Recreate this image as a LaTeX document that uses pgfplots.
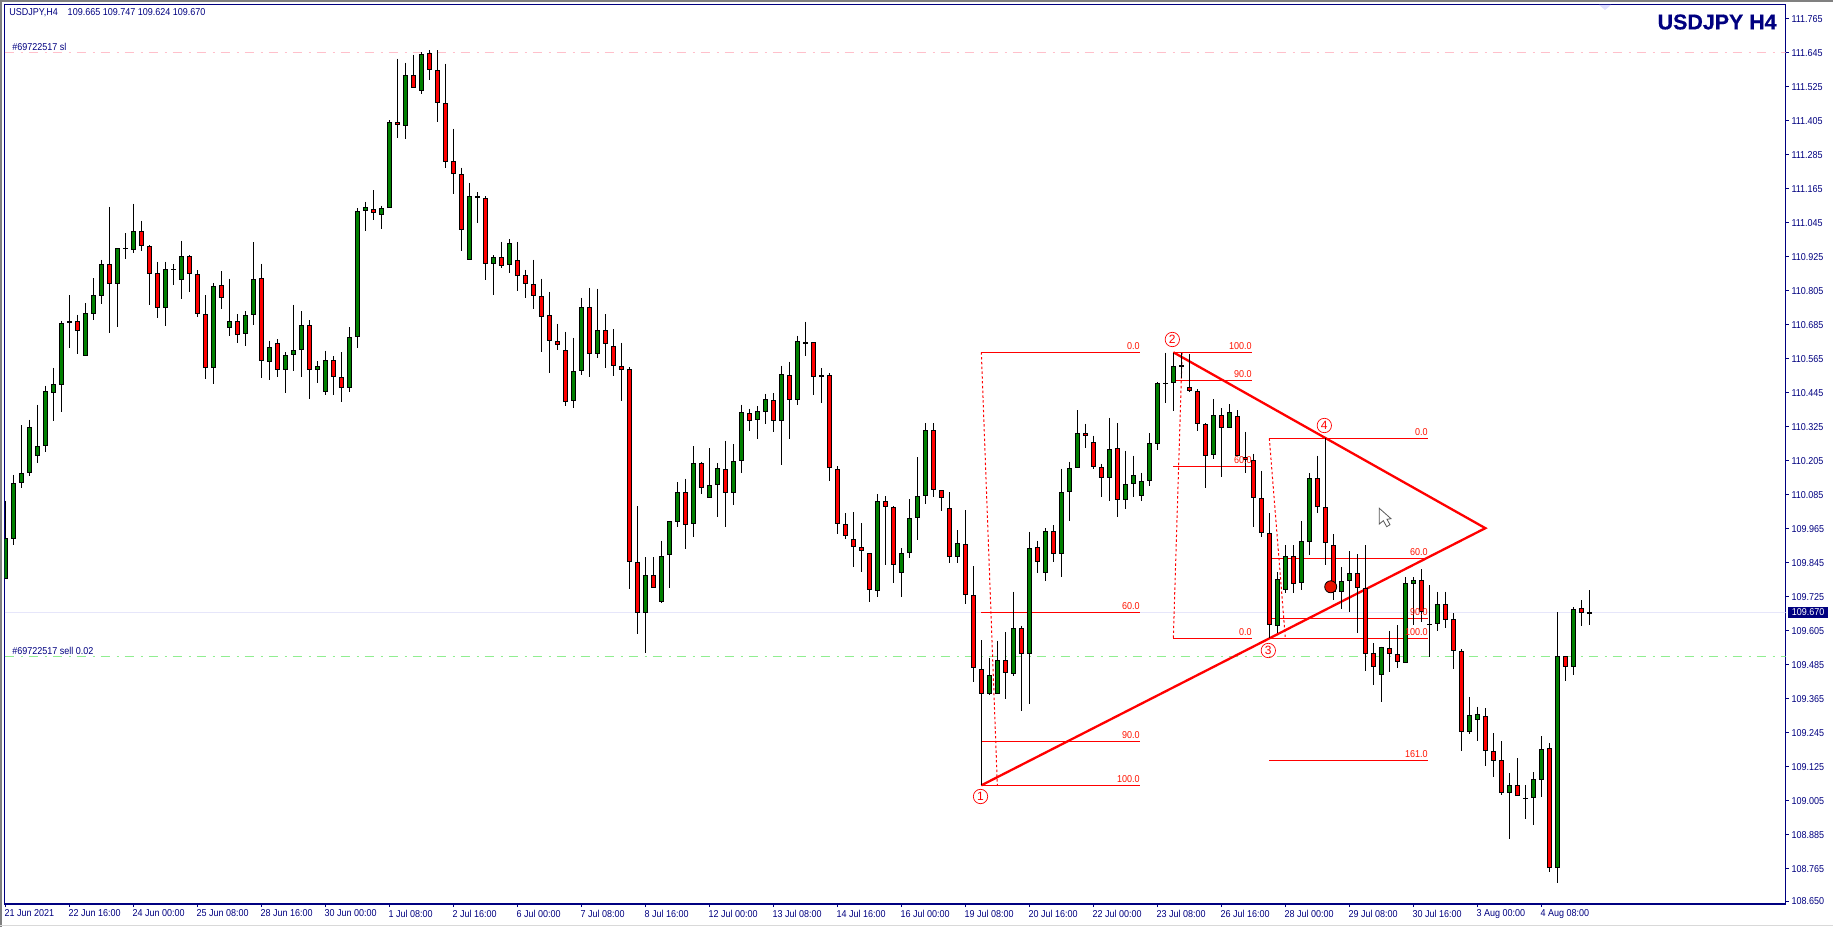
\documentclass[border=0pt]{standalone}
\usepackage{pgfplots}
\usepackage{pgfplotstable}
\usepackage{fontspec}
\pgfplotsset{compat=1.18}
\setmainfont[FakeStretch=0.9]{Liberation Sans}
\newfontfamily\titlefont[FakeBold=0.6]{Liberation Sans}
\newfontfamily\plainfont{Liberation Sans}
\definecolor{mtnavy}{RGB}{0,0,128}
\definecolor{mtgreen}{RGB}{0,128,0}
\definecolor{mtred}{RGB}{255,0,0}
\definecolor{mtlgreen}{RGB}{144,238,144}
\definecolor{mtpink}{RGB}{255,192,203}
\definecolor{mtlav}{RGB}{230,230,250}
\newcommand{\smallf}{\fontsize{5}{6}\selectfont}
\pgfplotsset{candle/.style={forget plot, only marks, mark size=0pt, mark options={draw=none, fill=none}}}
% columns: i open high low close
\pgfplotstableread{
i o h l c
0 109.789 110.063 109.786 109.931
1 109.928 110.155 109.908 110.125
2 110.128 110.331 110.109 110.161
3 110.161 110.349 110.151 110.323
4 110.223 110.402 110.198 110.256
5 110.258 110.469 110.237 110.450
6 110.446 110.533 110.347 110.475
7 110.474 110.699 110.378 110.690
8 110.690 110.790 110.604 110.697
10 110.576 110.761 110.576 110.726
11 110.724 110.850 110.702 110.789
12 110.788 110.914 110.759 110.899
14 110.830 110.955 110.679 110.955
15 110.952 111.009 110.919 110.955
16 110.948 111.112 110.940 111.015
20 110.743 110.907 110.682 110.881
21 110.877 110.899 110.827 110.881
22 110.842 110.981 110.777 110.927
26 110.531 110.832 110.477 110.821
28 110.673 110.847 110.647 110.697
30 110.651 110.733 110.611 110.719
31 110.719 110.976 110.686 110.846
33 110.553 110.628 110.491 110.606
35 110.524 110.589 110.446 110.577
36 110.577 110.755 110.523 110.595
37 110.595 110.733 110.502 110.683
39 110.524 110.556 110.481 110.538
40 110.447 110.593 110.438 110.560
43 110.461 110.677 110.447 110.641
44 110.641 111.096 110.604 111.086
45 111.086 111.119 111.018 111.100
47 111.072 111.105 111.025 111.096
48 111.096 111.407 111.096 111.400
50 111.386 111.610 111.342 111.566
52 111.510 111.648 111.501 111.640
58 110.913 111.186 110.913 111.139
61 110.899 110.930 110.792 110.923
63 110.895 110.987 110.869 110.973
71 110.415 110.639 110.393 110.521
72 110.521 110.780 110.509 110.747
74 110.581 110.812 110.569 110.666
80 109.666 109.865 109.527 109.801
82 109.705 109.922 109.702 109.868
83 109.871 109.991 109.757 109.991
84 109.988 110.130 109.972 110.094
86 109.981 110.257 109.937 110.196
88 110.075 110.250 110.075 110.118
89 110.118 110.197 110.008 110.178
91 110.090 110.264 110.050 110.203
92 110.203 110.402 110.163 110.376
94 110.348 110.398 110.283 110.380
95 110.376 110.441 110.336 110.422
97 110.344 110.540 110.191 110.510
99 110.418 110.646 110.403 110.627
100 110.616 110.695 110.576 110.623
102 110.500 110.531 110.410 110.507
109 109.744 110.087 109.725 110.062
112 109.808 109.896 109.725 109.878
113 109.878 110.069 109.861 110.002
114 110.002 110.217 109.926 110.079
115 110.079 110.337 110.054 110.313
119 109.864 109.959 109.845 109.913
123 109.383 109.509 109.378 109.447
124 109.380 109.569 109.380 109.500
126 109.453 109.742 109.446 109.613
128 109.524 109.954 109.346 109.896
130 109.808 109.966 109.782 109.956
132 109.875 110.176 109.796 110.094
133 110.094 110.201 109.994 110.178
134 110.178 110.384 110.178 110.302
138 110.143 110.356 110.064 110.245
140 110.065 110.240 110.036 110.122
141 110.122 110.222 110.078 110.154
142 110.079 110.162 110.064 110.132
143 110.132 110.303 110.117 110.267
144 110.263 110.482 110.244 110.478
145 110.477 110.586 110.410 110.479
146 110.478 110.586 110.382 110.539
151 110.224 110.423 110.212 110.365
153 110.320 110.405 110.320 110.376
159 109.620 109.811 109.596 109.786
160 109.750 109.906 109.739 109.868
162 109.772 109.992 109.749 109.921
163 109.917 110.161 109.872 110.143
167 109.740 109.829 109.680 109.779
168 109.779 109.885 109.671 109.808
172 109.447 109.549 109.354 109.546
175 109.490 109.793 109.490 109.772
176 109.769 109.793 109.625 109.783
178 109.625 109.765 109.513 109.627
179 109.627 109.742 109.605 109.698
183 109.246 109.371 109.239 109.306
184 109.289 109.336 109.217 109.310
188 109.031 109.101 108.871 109.059
190 109.010 109.059 108.941 109.013
191 109.013 109.105 108.920 109.080
192 109.077 109.232 109.019 109.186
194 108.766 109.671 108.715 109.515
196 109.476 109.688 109.450 109.680
198 109.665 109.747 109.624 109.670
}\greentbl
\pgfplotstableread{
i o h l c
9 110.697 110.720 110.582 110.662
13 110.899 111.101 110.657 110.828
17 111.015 111.052 110.947 110.962
18 110.962 110.966 110.756 110.866
19 110.867 110.907 110.710 110.743
23 110.927 110.930 110.801 110.863
24 110.863 110.877 110.714 110.724
25 110.722 110.790 110.494 110.531
27 110.824 110.875 110.742 110.779
29 110.697 110.722 110.622 110.648
32 110.849 110.900 110.498 110.556
34 110.620 110.634 110.502 110.524
38 110.683 110.701 110.424 110.524
41 110.560 110.574 110.438 110.500
42 110.500 110.589 110.414 110.461
46 111.093 111.161 111.056 111.079
49 111.400 111.624 111.346 111.389
51 111.566 111.638 111.520 111.520
53 111.644 111.655 111.551 111.584
54 111.584 111.655 111.402 111.467
55 111.467 111.606 111.240 111.259
56 111.262 111.377 111.148 111.216
57 111.216 111.239 110.947 111.019
59 111.139 111.153 111.046 111.132
60 111.132 111.139 110.844 110.899
62 110.923 110.978 110.887 110.892
64 110.913 110.978 110.806 110.859
65 110.860 110.879 110.781 110.828
66 110.828 110.914 110.742 110.786
67 110.786 110.847 110.590 110.712
68 110.719 110.801 110.516 110.627
69 110.627 110.688 110.597 110.613
70 110.595 110.660 110.400 110.411
73 110.747 110.815 110.502 110.581
75 110.666 110.723 110.534 110.616
76 110.609 110.670 110.506 110.538
77 110.538 110.621 110.417 110.524
78 110.528 110.535 109.751 109.846
79 109.846 110.045 109.595 109.666
81 109.801 109.865 109.755 109.755
85 110.094 110.141 109.895 109.977
87 110.196 110.201 110.089 110.108
90 110.175 110.275 109.972 110.090
93 110.373 110.388 110.311 110.344
96 110.418 110.444 110.308 110.344
98 110.507 110.554 110.283 110.418
101 110.623 110.623 110.438 110.500
103 110.507 110.514 110.135 110.178
104 110.175 110.185 109.948 109.981
105 109.981 110.019 109.930 109.938
106 109.928 110.024 109.831 109.899
107 109.899 109.985 109.813 109.885
108 109.878 109.878 109.708 109.748
110 110.062 110.079 109.838 110.041
111 110.041 110.044 109.775 109.836
116 110.313 110.337 110.078 110.101
117 110.101 110.101 110.029 110.072
118 110.037 110.094 109.845 109.864
120 109.910 110.030 109.698 109.730
121 109.730 109.833 109.425 109.472
122 109.469 109.572 109.059 109.380
125 109.500 109.600 109.365 109.454
127 109.613 109.622 109.323 109.524
129 109.899 109.922 109.810 109.849
131 109.956 109.978 109.849 109.875
135 110.302 110.335 110.250 110.291
136 110.270 110.293 110.177 110.182
137 110.182 110.194 110.078 110.143
139 110.249 110.338 110.008 110.065
147 110.542 110.585 110.496 110.535
148 110.464 110.582 110.447 110.450
149 110.450 110.457 110.311 110.334
150 110.334 110.337 110.110 110.221
152 110.365 110.391 110.149 110.320
154 110.362 110.384 110.221 110.221
155 110.217 110.307 110.162 110.207
156 110.207 110.229 109.972 110.072
157 110.072 110.169 109.937 109.949
158 109.949 110.019 109.578 109.624
161 109.868 109.906 109.739 109.769
164 110.143 110.222 110.022 110.041
165 110.041 110.284 109.838 109.913
166 109.906 109.945 109.713 109.740
169 109.808 109.875 109.598 109.755
170 109.755 109.906 109.464 109.522
171 109.525 109.560 109.413 109.476
173 109.543 109.604 109.460 109.522
174 109.522 109.625 109.472 109.493
177 109.783 109.822 109.637 109.670
180 109.698 109.742 109.616 109.642
181 109.645 109.666 109.471 109.532
182 109.532 109.539 109.181 109.246
185 109.303 109.331 109.128 109.179
186 109.179 109.243 109.090 109.144
187 109.147 109.214 109.024 109.031
189 109.059 109.154 109.020 109.020
193 109.190 109.207 108.754 108.766
195 109.515 109.515 109.429 109.476
197 109.684 109.713 109.622 109.666
}\redtbl
\begin{document}
\begin{tikzpicture}
\path[use as bounding box] (0,0) rectangle (916.5pt,463.5pt);
\begin{axis}[
  at={(2.25pt,11.5pt)}, anchor=south west,
  scale only axis, width=890.5pt, height=449.75pt,
  xmin=-0.104, xmax=222.52, ymin=108.640, ymax=111.816,
  axis line style={mtnavy, line width=0.6pt},
  tick style={mtnavy, line width=0.5pt},
  tick align=outside, major tick length=1.6pt,
  xtick pos=bottom, ytick pos=right,
  xtick={0,8,...,192},
  xticklabels={21 Jun 2021,22 Jun 16:00,24 Jun 00:00,25 Jun 08:00,28 Jun 16:00,30 Jun 00:00,1 Jul 08:00,2 Jul 16:00,6 Jul 00:00,7 Jul 08:00,8 Jul 16:00,12 Jul 00:00,13 Jul 08:00,14 Jul 16:00,16 Jul 00:00,19 Jul 08:00,20 Jul 16:00,22 Jul 00:00,23 Jul 08:00,26 Jul 16:00,28 Jul 00:00,29 Jul 08:00,30 Jul 16:00,3 Aug 00:00,4 Aug 08:00},
  xticklabel style={anchor=north west, inner sep=0pt, xshift=-0.6pt, yshift=-1.2pt, font=\smallf, text=mtnavy},
  ytick={108.650,108.765,108.885,109.005,109.125,109.245,109.365,109.485,109.605,109.725,109.845,109.965,110.085,110.205,110.325,110.445,110.565,110.685,110.805,110.925,111.045,111.165,111.285,111.405,111.525,111.645,111.765},
  yticklabels={108.650,108.765,108.885,109.005,109.125,109.245,109.365,109.485,109.605,109.725,109.845,109.965,110.085,110.205,110.325,110.445,110.565,110.685,110.805,110.925,111.045,111.165,111.285,111.405,111.525,111.645,111.765},
  yticklabel style={anchor=west, inner sep=0pt, xshift=1.2pt, font=\smallf, text=mtnavy},
  clip=true,
]
% horizontal levels
\addplot[forget plot, color=mtlav, line width=0.6pt] coordinates {(-0.104,109.670) (222.52,109.670)};
\addplot[forget plot, color=mtlgreen, line width=0.6pt, dash pattern=on 4.5pt off 3.5pt on 1pt off 3pt] coordinates {(-0.104,109.515) (222.52,109.515)};
\addplot[forget plot, color=mtpink, line width=0.6pt, dash pattern=on 4.5pt off 3.5pt on 1pt off 3pt] coordinates {(-0.104,111.647) (222.52,111.647)};
% fibonacci levels
\addplot[forget plot, mtred, line width=0.5pt] coordinates {(122,110.588) (141.83,110.588)};
\addplot[forget plot, mtred, line width=0.5pt] coordinates {(122,109.670) (141.83,109.670)};
\addplot[forget plot, mtred, line width=0.5pt] coordinates {(122,109.214) (141.83,109.214)};
\addplot[forget plot, mtred, line width=0.5pt] coordinates {(122,109.059) (141.83,109.059)};
\addplot[forget plot, mtred, line width=0.5pt] coordinates {(146,110.588) (155.83,110.588)};
\addplot[forget plot, mtred, line width=0.5pt] coordinates {(146.33,110.489) (155.83,110.489)};
\addplot[forget plot, mtred, line width=0.5pt] coordinates {(146,110.185) (155.83,110.185)};
\addplot[forget plot, mtred, line width=0.5pt] coordinates {(146,109.578) (155.83,109.578)};
\addplot[forget plot, mtred, line width=0.5pt] coordinates {(158,110.284) (177.83,110.284)};
\addplot[forget plot, mtred, line width=0.5pt] coordinates {(158,109.861) (177.83,109.861)};
\addplot[forget plot, mtred, line width=0.5pt] coordinates {(158,109.649) (177.83,109.649)};
\addplot[forget plot, mtred, line width=0.5pt] coordinates {(158,109.578) (177.83,109.578)};
\addplot[forget plot, mtred, line width=0.5pt] coordinates {(158,109.148) (177.83,109.148)};
% dotted retracement legs
\addplot[forget plot, mtred, line width=0.5pt, dash pattern=on 1.2pt off 1.2pt] coordinates {(122,110.588) (124,109.059)};
\addplot[forget plot, mtred, line width=0.5pt, dash pattern=on 1.2pt off 1.2pt] coordinates {(147.1,110.588) (146,109.578)};
\addplot[forget plot, mtred, line width=0.5pt, dash pattern=on 1.2pt off 1.2pt] coordinates {(158,110.284) (160,109.578)};
% triangle
\addplot[forget plot, mtred, line width=1.15pt, line join=miter] coordinates {(122,109.059) (185,109.967) (146,110.588)};
% trade marker
\addplot[forget plot, only marks, mark=*, mark size=3pt, mark options={draw=none, fill=red!85!orange!92!black}] coordinates {(165.67,109.760)};
% wicks and bodies
\addplot[candle, error bars/.cd, y dir=minus, y explicit, error mark=none, error bar style={line width=0.5pt, black, solid}] table[x=i, y=h, y error minus expr=\thisrow{h}-\thisrow{l}] {\greentbl};
\addplot[candle, error bars/.cd, y dir=minus, y explicit, error mark=none, error bar style={line width=0.5pt, black, solid}] table[x=i, y=h, y error minus expr=\thisrow{h}-\thisrow{l}] {\redtbl};
\addplot[candle, error bars/.cd, y dir=minus, y explicit, error mark=none, error bar style={line width=2.4pt, black, solid}] table[x=i, y=c, y error minus expr=\thisrow{c}-\thisrow{o}] {\greentbl};
\addplot[candle, error bars/.cd, y dir=minus, y explicit, error mark=none, error bar style={line width=2.4pt, black, solid}] table[x=i, y=o, y error minus expr=\thisrow{o}-\thisrow{c}] {\redtbl};
\addplot[candle, error bars/.cd, y dir=minus, y explicit, error mark=none, error bar style={line width=1.4pt, mtgreen, solid}] table[x=i, y expr=\thisrow{c}-0.0035, y error minus expr={max(\thisrow{c}-\thisrow{o}-0.007,0)}] {\greentbl};
\addplot[candle, error bars/.cd, y dir=minus, y explicit, error mark=none, error bar style={line width=1.4pt, mtred, solid}] table[x=i, y expr=\thisrow{o}-0.0035, y error minus expr={max(\thisrow{o}-\thisrow{c}-0.007,0)}] {\redtbl};
\end{axis}
% furniture in screen pixels from the top-left corner
\begin{scope}[shift={(0pt,463.5pt)}, x=0.5pt, y=-0.5pt]
\draw[gray, line width=1pt] (1,927) -- (1,1) -- (1833,1);
\draw[black!15, line width=0.8pt] (0,925.5) -- (1833,925.5);
\fill[blue!12] (1599,5) -- (1611,5) -- (1605,10) -- cycle;
\tikzset{t/.style={inner sep=0pt, font=\smallf}}
\node[t, anchor=west, text=mtnavy] at (9,12.5) {USDJPY,H4\hspace{5pt}109.665 109.747 109.624 109.670};
\node[t, anchor=west, text=mtnavy] at (12,46.5) {\#69722517 sl};
\node[t, anchor=west, text=mtnavy] at (12,650.5) {\#69722517 sell 0.02};
\node[inner sep=0pt, anchor=east, text=mtnavy, font=\titlefont\fontsize{10.7}{12}\selectfont\bfseries] at (1777,22) {USDJPY H4};
% price tag
\fill[mtnavy] (1787.5,607) rectangle (1828,618);
\node[t, anchor=west, text=white] at (1791.5,612.5) {109.670};
% fib labels
\foreach \xx/\yy/\tx in {1140/352/0.0,1140/612/60.0,1140/741/90.0,1140/785/100.0,1252/352/100.0,1252/380/90.0,1252/466/60.0,1252/638/0.0,1428/438/0.0,1428/558/60.0,1428/618/90.0,1428/638/100.0,1428/760/161.0}
  \node[t, anchor=south east, text=red!85!orange] at (\xx,\yy-2) {\tx};
% wave numbers
\tikzset{w/.style={circle, draw=mtred, line width=0.35pt, inner sep=0pt, minimum size=7.2pt, text=mtred, font=\plainfont\fontsize{6}{7}\selectfont}}
\node[w] at (980.5,796.5) {1};
\node[w] at (1172.3,339.5) {2};
\node[w] at (1268.3,650.5) {3};
\node[w] at (1324.3,425.5) {4};
% mouse pointer
\draw[black!65, fill=white, line width=0.4pt] (1379.3,508.3) -- (1379.3,524) -- (1383.3,520.7) -- (1386.7,526.7) -- (1390,524.7) -- (1387,519.3) -- (1391,518.7) -- cycle;
\end{scope}
\end{tikzpicture}
\end{document}
